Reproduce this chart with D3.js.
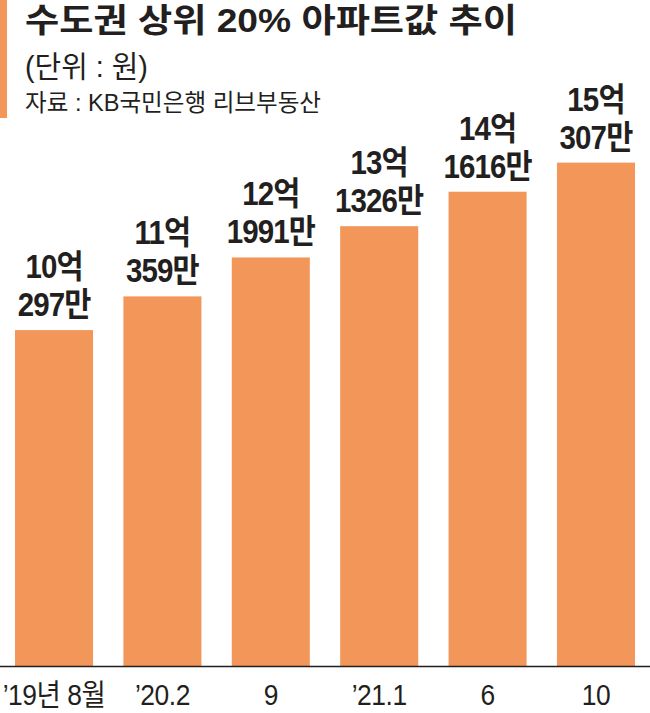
<!DOCTYPE html>
<html><head><meta charset="utf-8">
<script src="https://cdn.jsdelivr.net/npm/d3@7"></script>
<style>
html,body{margin:0;padding:0;background:#fff;}
svg{display:block;}
text{font-family:"Liberation Sans","Noto Sans CJK KR",sans-serif;fill:#231f20;}
</style></head>
<body>
<svg id="chart" width="650" height="713"></svg>
<script>
const title = "수도권 상위 20% 아파트값 추이";
const unitText = "(단위 : 원)";
const sourceText = "자료 : KB국민은행 리브부동산";
const categories = ["’19년 8월", "’20.2", "9", "’21.1", "6", "10"];
const values = [100297, 110359, 121991, 131326, 141616, 150307]; // 만원
const labelTop = ["10억", "11억", "12억", "13억", "14억", "15억"];
const labelBottom = ["297만", "359만", "1991만", "1326만", "1616만", "307만"];

const orange = "#f29659";
const svg = d3.select("#chart");

// left accent
svg.append("rect").attr("x",0).attr("y",0).attr("width",7).attr("height",118).attr("fill",orange);

svg.append("text").text(title).attr("x",25).attr("y",32)
  .attr("font-size",33).attr("font-weight",700)
  .attr("textLength",492).attr("lengthAdjust","spacingAndGlyphs");
svg.append("text").text(unitText).attr("x",25).attr("y",77)
  .attr("font-size",30).attr("font-weight",400)
  .attr("textLength",123).attr("lengthAdjust","spacingAndGlyphs");
svg.append("text").text(sourceText).attr("x",25).attr("y",111)
  .attr("font-size",24).attr("font-weight",400)
  .attr("textLength",296).attr("lengthAdjust","spacingAndGlyphs");

const baseY = 666;
const x = d3.scaleBand().domain(categories).range([15, 635]).paddingInner(0.28).paddingOuter(0);
const y = d3.scaleLinear().domain([0, 160000]).range([baseY, baseY - 160000 * 0.003349]);

const data = categories.map((c,i)=>({c, v:values[i], t:labelTop[i], b:labelBottom[i]}));

svg.append("g").selectAll("rect").data(data).join("rect")
  .attr("x", d=>x(d.c)).attr("width", x.bandwidth())
  .attr("y", d=>y(d.v)).attr("height", d=>baseY - y(d.v))
  .attr("fill", orange);

// baseline
svg.append("line").attr("x1",0).attr("x2",650).attr("y1",baseY+0.5).attr("y2",baseY+0.5)
  .attr("stroke","#231f20").attr("stroke-width",1.5);

// value labels: one text, two lines
const lt = svg.append("g").selectAll("text").data(data).join("text")
  .attr("transform", d=>`translate(${x(d.c)+x.bandwidth()/2},${y(d.v)-14}) scale(0.88,1)`)
  .attr("text-anchor","middle").attr("font-size",33.5).attr("font-weight",700)
  .attr("letter-spacing",-1);
lt.append("tspan").attr("x",0).attr("y",-38).text(d=>d.t);
lt.append("tspan").attr("x",0).attr("y",0).text(d=>d.b);

// x axis labels
svg.append("g").selectAll("text").data(categories).join("text")
  .attr("transform", d=>`translate(${x(d)+x.bandwidth()/2},705) scale(0.88,1)`)
  .attr("text-anchor","middle").attr("font-size",30).attr("font-weight",400)
  .attr("letter-spacing",-0.5)
  .text(d=>d);
</script>
</body></html>
